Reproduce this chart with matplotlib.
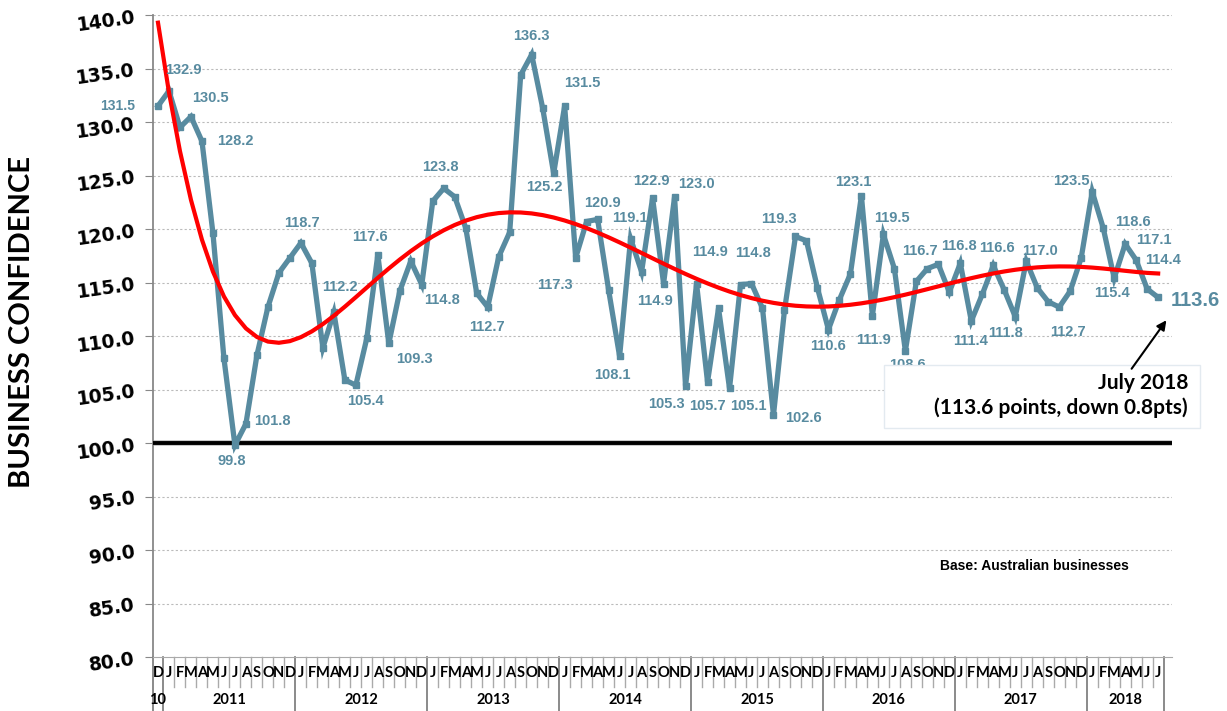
import numpy as np
import pandas as pd
import matplotlib
matplotlib.use('Agg')
import matplotlib.pyplot as plt
from matplotlib.patches import Rectangle, FancyArrowPatch

# monthly business confidence, Dec 2010 - Jul 2018
months = pd.date_range('2010-12-01', '2018-07-01', freq='MS')
confidence = [131.5,
              132.9, 129.5, 130.5, 128.2, 119.6, 107.9, 99.8, 101.8, 108.2, 112.7, 115.9, 117.3,
              118.7, 116.8, 108.9, 112.2, 105.9, 105.4, 109.8, 117.6, 109.3, 114.2, 117.0, 114.8,
              122.6, 123.8, 123.0, 120.1, 114.0, 112.7, 117.4, 119.7, 134.4, 136.3, 131.3, 125.2,
              131.5, 117.3, 120.7, 120.9, 114.3, 108.1, 119.1, 116.0, 122.9, 114.9, 123.0, 105.3,
              114.9, 105.7, 112.6, 105.1, 114.8, 114.9, 112.6, 102.6, 112.4, 119.3, 118.9, 114.5,
              110.6, 113.4, 115.8, 123.1, 111.9, 119.5, 116.3, 108.6, 115.1, 116.3, 116.7, 114.1,
              116.8, 111.4, 113.9, 116.6, 114.3, 111.8, 117.0, 114.5, 113.2, 112.7, 114.2, 117.3,
              123.5, 120.1, 115.4, 118.6, 117.1, 114.4, 113.6]

# which points carry a value label
label_idx = [0, 1, 3, 4, 7, 8, 13, 16, 18, 20, 21, 24, 26, 30, 34, 36, 37, 38, 40, 42, 43,
             45, 46, 47, 48, 49, 50, 52, 53, 56, 58, 61, 64, 65, 66, 68, 71, 73, 74, 76, 78,
             79, 82, 85, 87, 88, 89, 90]
# label offsets in pixels (dx right, dy down)
label_off = [(-40, 0), (14, -21), (19, -19), (33, 0), (-3, 16), (26, -3), (1, -20), (6, -25),
             (10, 16), (-8, -18), (26, 16), (20, 15), (-3, -21), (-1, 20), (0, -19), (-9, 14),
             (18, -23), (-21, 27), (5, -16), (-7, 19), (-1, -21), (-1, -17), (-9, 17), (22, -13),
             (-19, 18), (13, -32), (0, 24), (19, 18), (12, -32), (30, 3), (-17, -17), (0, 16),
             (-8, -14), (1, 24), (9, -16), (2, 14), (-18, -13), (-1, -17), (-1, 20), (4, -17),
             (-10, 16), (14, -10), (9, 25), (-21, -11), (-2, 15), (8, -22), (18, -20), (16, -29)]

BLUE = '#588ba0'
W, H = 1227, 711

x = np.arange(len(confidence))
y = np.array(confidence)
trend = np.polynomial.Polynomial.fit(x, y, 6)(x)

fig = plt.figure(figsize=(W / 100, H / 100), dpi=100)
ax = fig.add_axes([153 / W, 1 - 657 / H, (1172 - 153) / W, (657 - 15) / H])
ax.set_xlim(-0.455, 92.26)
ax.set_ylim(80, 140)

yt = np.arange(80, 141, 5)
ax.set_yticks(yt)
ax.set_yticklabels(['%.1f' % v for v in yt])
for t in ax.get_yticklabels():
    t.set_fontweight('bold')
    t.set_fontfamily('DejaVu Sans')
ax.tick_params(axis='y', length=6, color='#888888', pad=6, labelsize=13.5, labelrotation=8)
ax.set_xticks([])
for v in yt[1:]:
    if v != 100:
        ax.axhline(v, color='#bbbbbb', lw=0.8, ls=(0, (2, 2)), zorder=0)

for s in ['top', 'right']:
    ax.spines[s].set_visible(False)
ax.spines['left'].set_color('#888888')
ax.spines['left'].set_linewidth(1.3)
ax.spines['bottom'].set_color('#aaaaaa')

# base line at 100
ax.axhline(100, color='#bbbbbb', lw=4, zorder=2, xmin=0)
ax.axhline(100, color='black', lw=2.8, zorder=3)

ax.plot(x, y, color=BLUE, lw=3.8, marker='s', ms=4, zorder=4, solid_joinstyle='miter')
ax.plot(x, trend, color='red', lw=3, zorder=5)

for i, (dx, dy) in zip(label_idx, label_off):
    ax.annotate('%.1f' % confidence[i], (x[i], y[i]), xytext=(dx, -dy),
                textcoords='offset pixels', ha='center', va='center',
                fontsize=10 if i == 0 else 10.5, fontweight='bold', color=BLUE,
                fontfamily='Liberation Sans', zorder=6)
ax.annotate('%.1f' % confidence[-1], (x[-1], y[-1]), xytext=(37, -3),
            textcoords='offset pixels', ha='center', va='center',
            fontsize=14.5, fontweight='bold', color=BLUE, fontfamily='Liberation Sans')

# two-level category axis
tr = ax.get_xaxis_transform()
ax_h = 642.0
mrow = -30 / ax_h
yrow = -54 / ax_h
for i in range(len(x) + 1):
    xs = i - 0.5
    new_year = i == len(x) or months[i].month == 1 or i == 0
    ax.plot([xs, xs], [0, yrow if new_year else mrow], transform=tr, clip_on=False,
            color='#777777' if new_year else '#aaaaaa', lw=1.2 if new_year else 1)
for i, m in enumerate(months):
    ax.text(i, -16 / ax_h, m.strftime('%b')[0], transform=tr, ha='center', va='center',
            fontsize=10.5, fontweight='bold', fontfamily='Lato')
for yr in sorted(set(months.year)):
    idx = np.where(months.year == yr)[0]
    lab = str(yr) if len(idx) > 1 else str(yr)[2:]
    ax.text(idx.mean(), -43 / ax_h, lab, transform=tr, ha='center', va='center',
            fontsize=10.5, fontweight='bold', fontfamily='Lato')

fig.text(22 / W, 1 - 322 / H, 'BUSINESS CONFIDENCE', rotation=90, ha='center', va='center',
         fontsize=21, fontweight='bold', fontfamily=['Liberation Sans Narrow', 'Lato'])

# callout box
box = Rectangle((884 / W, 1 - 428 / H), (1200 - 884) / W, 63 / H, transform=fig.transFigure,
                facecolor='white', edgecolor='#e3eaf0', lw=1, zorder=10)
fig.add_artist(box)
fig.text(1188 / W, 1 - 383 / H, 'July 2018', ha='right', va='center', fontsize=15,
         fontweight='bold', fontfamily='Lato', zorder=11)
fig.text(1188 / W, 1 - 408 / H, '(113.6 points, down 0.8pts)', ha='right', va='center',
         fontsize=15, fontweight='bold', fontfamily='Lato', zorder=11)
arr = FancyArrowPatch((1130 / W, 1 - 371 / H), (1168 / W, 1 - 318 / H), transform=fig.transFigure,
                      arrowstyle='-|>', mutation_scale=14, color='black', lw=1.5, zorder=11)
fig.add_artist(arr)

fig.text(1034 / W, 1 - 566 / H, 'Base: Australian businesses', ha='center', va='center',
         fontsize=10, fontweight='bold', fontfamily='Liberation Sans')

fig.savefig('out.png', dpi=100)
